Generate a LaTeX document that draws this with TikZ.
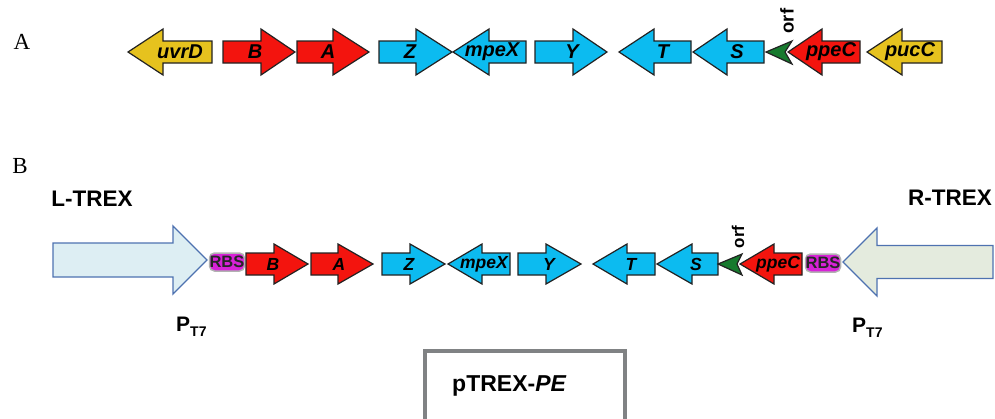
\documentclass[tikz,border=0pt]{standalone}
\usepackage{fontspec}
\setmainfont{Liberation Sans}
\newfontfamily\seriffont{Liberation Serif}
\definecolor{gyellow}{HTML}{E6C21E}
\definecolor{gred}{HTML}{F3140E}
\definecolor{gcyan}{HTML}{0CBBF0}
\definecolor{ggreen}{HTML}{177A2E}
\definecolor{gmag}{HTML}{D822D8}
\definecolor{gline}{HTML}{222222}
\definecolor{lblue}{HTML}{DDEEF3}
\definecolor{lgreen}{HTML}{E4EBDE}
\definecolor{bigline}{HTML}{4E72B0}
\definecolor{boxgray}{HTML}{808284}
\newcommand\genearr[7]{%
  \draw[#7] (#1,#4-#6) -- (#2,#4-#6) -- (#2,#4-#5) -- (#3,#4) -- (#2,#4+#5) -- (#2,#4+#6) -- (#1,#4+#6) -- cycle;}
\tikzset{
  geneA/.style={draw=gline,line width=1.2pt,line join=miter},
  genelabA/.style={font=\fontsize{20}{20}\selectfont\bfseries\itshape,inner sep=0pt},
  genelabB/.style={font=\fontsize{17.5}{17.5}\selectfont\bfseries\itshape,inner sep=0pt},
  bigarrow/.style={draw=bigline,line width=1.3pt},
  trexlab/.style={font=\fontsize{22.5}{22.5}\selectfont\bfseries,inner sep=0pt},
  panellab/.style={font=\seriffont\fontsize{23}{23}\selectfont,inner sep=0pt},
  rbs/.style={fill=gmag,draw=black!30,line width=1.5pt,rounded corners=5pt,minimum width=35pt,minimum height=18pt,inner sep=0pt,font=\fontsize{16.5}{16.5}\selectfont\bfseries,text=black!85},
  ptlab/.style={font=\fontsize{21}{21}\selectfont\bfseries,inner sep=0pt,anchor=west}
}
\begin{document}
\begin{tikzpicture}[x=1pt,y=-1pt]
\useasboundingbox (0,0) rectangle (995,418);
% panel labels
\node[panellab] (pA) at (22,42) {A};
\node[panellab] (pB) at (20,166) {B};
% ---------- Row A ----------
\genearr{212}{163}{128}{52}{23}{11}{geneA,fill=gyellow}
\genearr{223}{261}{295}{52}{23}{11}{geneA,fill=gred}
\genearr{297}{333}{369}{52}{23}{11}{geneA,fill=gred}
\genearr{379}{416}{452}{52}{23}{11}{geneA,fill=gcyan}
\genearr{526}{489}{453}{52}{23}{11}{geneA,fill=gcyan}
\genearr{535}{573}{607}{52}{23}{11}{geneA,fill=gcyan}
\genearr{691}{654}{619}{52}{23}{11}{geneA,fill=gcyan}
\genearr{764}{727}{693}{52}{23}{11}{geneA,fill=gcyan}
\draw[geneA,fill=ggreen] (766,52) -- (792,41) -- (785,52) -- (792,64) -- cycle;
\genearr{860}{822}{788}{52}{23}{11}{geneA,fill=gred}
\genearr{942}{902}{867}{52}{23}{11}{geneA,fill=gyellow}
\node[genelabA] (a-uvrD) at (180,52) {uvrD};
\node[genelabA] (a-B) at (255,52) {B};
\node[genelabA] (a-A) at (328,52) {A};
\node[genelabA] (a-Z) at (410,52) {Z};
\node[genelabA] (a-mpeX) at (492,52) {mpeX};
\node[genelabA] (a-Y) at (572,52) {Y};
\node[genelabA] (a-T) at (663,52) {T};
\node[genelabA] (a-S) at (737,52) {S};
\node[genelabA] (a-ppeC) at (831,52) {ppeC};
\node[genelabA] (a-pucC) at (910,52) {pucC};
\node[font=\fontsize{18.5}{18.5}\selectfont\bfseries,inner sep=0pt,rotate=90] (a-orf) at (787,21) {orf};
% ---------- Row B ----------
\genearr{53}{173}{207}{260}{34}{17}{bigarrow,fill=lblue}
\genearr{993}{877}{843}{262}{34}{16.5}{bigarrow,fill=lgreen}
\node[trexlab] (ltrex) at (92,199) {L-TREX};
\node[trexlab] (rtrex) at (950,198) {R-TREX};
\node[rbs] (rbsL) at (227,262) {RBS};
\node[rbs] (rbsR) at (823,263) {RBS};
\genearr{246}{274}{308}{264}{20}{11}{geneA,fill=gred}
\genearr{311}{338}{373}{264}{20}{11}{geneA,fill=gred}
\genearr{382}{410}{445}{264}{20}{11}{geneA,fill=gcyan}
\genearr{510}{482}{448}{264}{20}{11}{geneA,fill=gcyan}
\genearr{518}{546}{581}{264}{20}{11}{geneA,fill=gcyan}
\genearr{655}{627}{593}{264}{20}{11}{geneA,fill=gcyan}
\genearr{718}{692}{657}{264}{20}{11}{geneA,fill=gcyan}
\draw[geneA,fill=ggreen] (718,264) -- (742,254) -- (737,264) -- (742,275) -- cycle;
\genearr{802}{774}{740}{264}{20}{11}{geneA,fill=gred}
\node[genelabB] (b-B) at (273,264) {B};
\node[genelabB] (b-A) at (339,264) {A};
\node[genelabB] (b-Z) at (409,264) {Z};
\node[genelabB] (b-mpeX) at (484,264) {mpeX};
\node[genelabB] (b-Y) at (549,264) {Y};
\node[genelabB] (b-T) at (631,264) {T};
\node[genelabB] (b-S) at (696,264) {S};
\node[genelabB] (b-ppeC) at (778,264) {ppeC};
\node[font=\fontsize{17}{17}\selectfont\bfseries,inner sep=0pt,rotate=90] (b-orf) at (738,237) {orf};
\node[ptlab] (ptL) at (176,327) {P\raisebox{-0.25em}{\fontsize{14}{14}\selectfont T7}};
\node[ptlab] (ptR) at (852,328) {P\raisebox{-0.25em}{\fontsize{14}{14}\selectfont T7}};
% pTREX-PE box
\draw[boxgray,line width=4pt] (425,351) rectangle (625,440);
\node[font=\fontsize{23}{23}\selectfont\bfseries,inner sep=0pt,anchor=west] (ptrex) at (452,386) {pTREX-\textit{PE}};
\end{tikzpicture}
\end{document}
